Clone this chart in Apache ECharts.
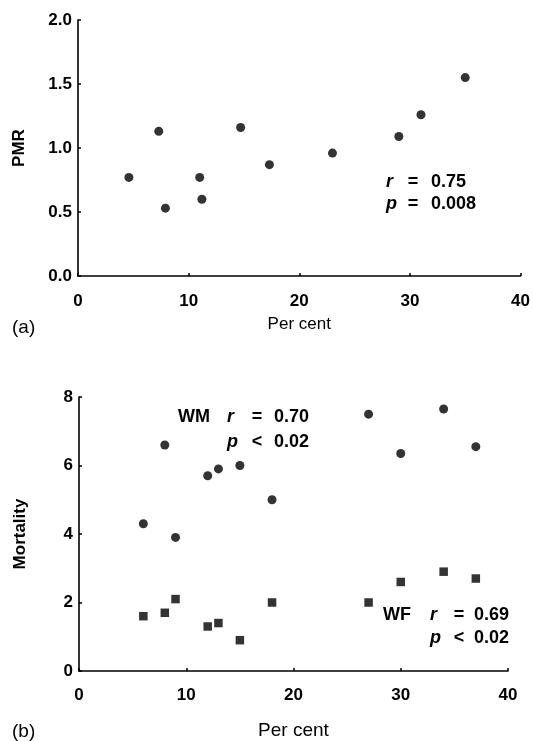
<!DOCTYPE html>
<html>
<head>
<meta charset="utf-8">
<script src="https://cdn.jsdelivr.net/npm/echarts@6/dist/echarts.min.js"></script>
<style>
html,body{margin:0;padding:0;background:#fff;}
#chart{width:533px;height:741px;}
</style>
</head>
<body>
<div id="chart"></div>
<script>
// Panel (a)
const percentA = [4.6, 7.3, 7.9, 11.0, 11.2, 14.7, 17.3, 23.0, 29.0, 31.0, 35.0];
const pmrA = [0.77, 1.13, 0.53, 0.77, 0.60, 1.16, 0.87, 0.96, 1.09, 1.26, 1.55];
// Panel (b)
const percentB = [6, 8, 9, 12, 13, 15, 18, 27, 30, 34, 37];
const mortalityWM = [4.3, 6.6, 3.9, 5.7, 5.9, 6.0, 5.0, 7.5, 6.35, 7.65, 6.55];
const mortalityWF = [1.6, 1.7, 2.1, 1.3, 1.4, 0.9, 2.0, 2.0, 2.6, 2.9, 2.7];

const xTicksLabel = 'Per cent';
const yNameA = 'PMR';
const yNameB = 'Mortality';

const FONT = '"Liberation Sans", Arial, Helvetica, sans-serif';
const black = '#000';

function pairs(xs, ys) { return xs.map((x, i) => [x, ys[i]]); }

function axisCommon() {
  return {
    axisLine: { show: true, lineStyle: { color: black, width: 1.6 } },
    axisTick: { show: true, inside: true, length: 3, lineStyle: { color: black, width: 1.5 } },
    splitLine: { show: false },
  };
}

const chart = echarts.init(document.getElementById('chart'), null, { renderer: 'canvas' });

function txt(text, x, y, opts) {
  return {
    type: 'text',
    x: x, y: y,
    style: Object.assign({
      text: text,
      fill: black,
      font: 'bold 18px ' + FONT,
      textVerticalAlign: 'middle',
      textAlign: 'left'
    }, opts || {})
  };
}
const italic = { font: 'italic bold 18px ' + FONT };
const centered = { textAlign: 'center' };

const option = {
  backgroundColor: '#fff',
  animation: false,
  textStyle: { fontFamily: FONT },
  grid: [
    { left: 78, top: 20, width: 445.5, height: 256, containLabel: false },
    { left: 79, top: 397, width: 429, height: 275, containLabel: false }
  ],
  xAxis: [
    Object.assign(axisCommon(), {
      gridIndex: 0, type: 'value', min: 0, max: 40, interval: 10,
      name: xTicksLabel, nameLocation: 'middle', nameGap: 40,
      nameTextStyle: { fontSize: 17, color: black, fontFamily: FONT },
      axisLabel: { fontSize: 17, fontWeight: 'bold', color: black, margin: 17, fontFamily: FONT }
    }),
    Object.assign(axisCommon(), {
      gridIndex: 1, type: 'value', min: 0, max: 40, interval: 10,
      name: xTicksLabel, nameLocation: 'middle', nameGap: 50,
      nameTextStyle: { fontSize: 19, color: black, fontFamily: FONT },
      axisLabel: { fontSize: 17, fontWeight: 'bold', color: black, margin: 16, fontFamily: FONT }
    })
  ],
  yAxis: [
    Object.assign(axisCommon(), {
      gridIndex: 0, type: 'value', min: 0, max: 2, interval: 0.5,
      name: yNameA, nameLocation: 'middle', nameGap: 50,
      nameTextStyle: { fontSize: 17, fontWeight: 'bold', color: black, fontFamily: FONT },
      axisLabel: { fontSize: 17, fontWeight: 'bold', color: black, margin: 6, fontFamily: FONT,
        formatter: v => v.toFixed(1) }
    }),
    Object.assign(axisCommon(), {
      gridIndex: 1, type: 'value', min: 0, max: 8, interval: 2,
      name: yNameB, nameLocation: 'middle', nameGap: 50,
      nameTextStyle: { fontSize: 17, fontWeight: 'bold', color: black, fontFamily: FONT },
      axisLabel: { fontSize: 17, fontWeight: 'bold', color: black, margin: 6, fontFamily: FONT }
    })
  ],
  series: [
    { type: 'scatter', xAxisIndex: 0, yAxisIndex: 0, data: pairs(percentA, pmrA),
      symbol: 'circle', symbolSize: 9, itemStyle: { color: black } },
    { type: 'scatter', xAxisIndex: 1, yAxisIndex: 1, name: 'WM', data: pairs(percentB, mortalityWM),
      symbol: 'circle', symbolSize: 9, itemStyle: { color: black } },
    { type: 'scatter', xAxisIndex: 1, yAxisIndex: 1, name: 'WF', data: pairs(percentB, mortalityWF),
      symbol: 'rect', symbolSize: 8.5, itemStyle: { color: black } }
  ],
  graphic: [
    // panel (a) stats
    txt('r', 386, 182, italic), txt('=', 413, 182, centered), txt('0.75', 431, 182),
    txt('p', 386, 204, italic), txt('=', 413, 204, centered), txt('0.008', 431, 204),
    // panel (b) WM stats
    txt('WM', 178, 417), txt('r', 227, 417, italic), txt('=', 257, 417, centered), txt('0.70', 274, 417),
    txt('p', 227, 442, italic), txt('<', 257, 442, centered), txt('0.02', 274, 442),
    // panel (b) WF stats
    txt('WF', 383, 615), txt('r', 430, 615, italic), txt('=', 459, 615, centered), txt('0.69', 474, 615),
    txt('p', 430, 638, italic), txt('<', 459, 638, centered), txt('0.02', 474, 638),
    // panel labels
    txt('(a)', 12, 328, { font: '19px ' + FONT }),
    txt('(b)', 12, 732, { font: '19px ' + FONT })
  ]
};
chart.setOption(option);
</script>
</body>
</html>
